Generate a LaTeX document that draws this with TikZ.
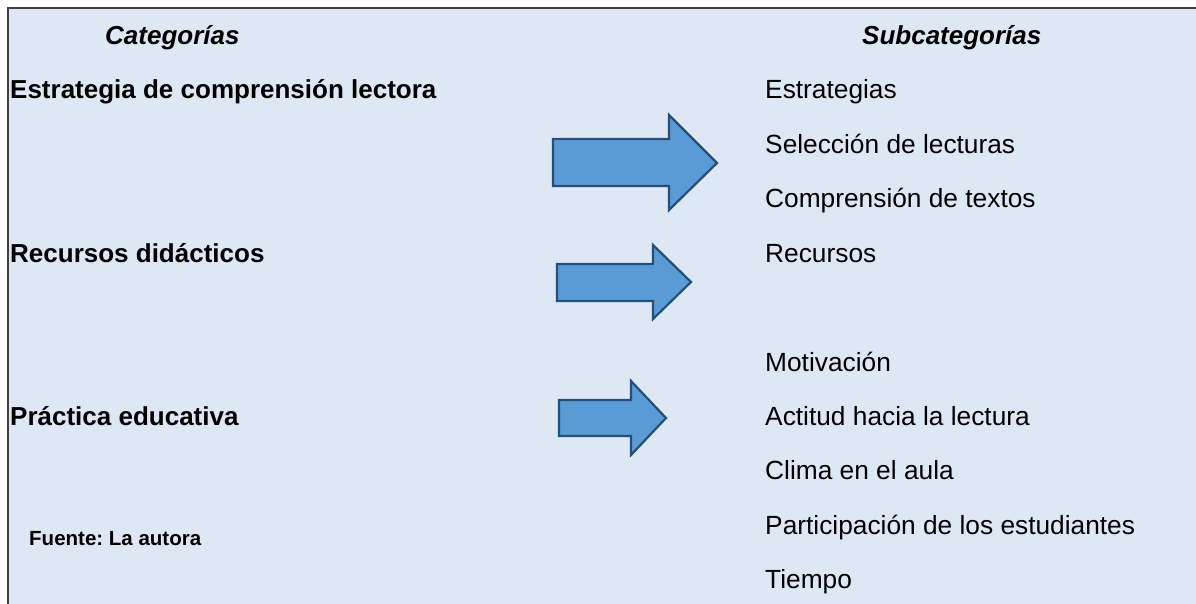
\documentclass[tikz,border=0pt]{standalone}
\usepackage{fontspec}
\setmainfont{Liberation Sans}
\frenchspacing
\definecolor{fondo}{RGB}{221,232,244}
\definecolor{flecha}{RGB}{91,155,213}
\definecolor{bordeflecha}{RGB}{37,78,120}
\definecolor{marco}{RGB}{64,64,64}
\tikzset{
  titulo/.style={anchor=base west,inner sep=0pt,font=\fontsize{26}{30}\selectfont\bfseries\itshape},
  categoria/.style={anchor=base west,inner sep=0pt,font=\fontsize{26}{30}\selectfont\bfseries},
  subcat/.style={anchor=base west,inner sep=0pt,font=\fontsize{26.3}{30}\selectfont},
  fuente/.style={anchor=base west,inner sep=0pt,font=\fontsize{20.5}{24}\selectfont\bfseries},
  bloque/.style={fill=flecha,draw=bordeflecha,line width=2.2pt,line join=miter}
}
\begin{document}
\begin{tikzpicture}[x=1pt,y=-1pt]
            \useasboundingbox (0,0) rectangle (1196,604);
            \fill[fondo] (8,8) rectangle (1196,604);
            \draw[marco,line width=2pt] (8,604) -- (8,8) -- (1196,8);

            \node[titulo] (cat) at (105,45) {Categorías};
            \node[titulo] (subcat) at (862,45) {Subcategorías};

            \node[categoria] (estrategia) at (10,99) {Estrategia de comprensión lectora};
            \node[categoria] (recursos) at (10,262) {Recursos didácticos};
            \node[categoria] (practica) at (10,425) {Práctica educativa};
            \node[fuente] (autora) at (29,545) {Fuente: La autora};

            \node[subcat] (s1) at (765,99) {Estrategias};
            \node[subcat] (s2) at (765,153.4) {Selección de lecturas};
            \node[subcat] (s3) at (765,207.8) {Comprensión de textos};
            \node[subcat] (s4) at (765,262.2) {Recursos};
            \node[subcat] (s5) at (765,371) {Motivación};
            \node[subcat] (s6) at (765,425.4) {Actitud hacia la lectura};
            \node[subcat] (s7) at (765,479.8) {Clima en el aula};
            \node[subcat] (s8) at (765,534.2) {Participación de los estudiantes};
            \node[subcat] (s9) at (765,588.6) {Tiempo};

            % flechas
            \draw[bloque] (553,139) -- (669,139) -- (669,115) -- (717,163)
                -- (669,210) -- (669,186) -- (553,186) -- cycle;
            \draw[bloque] (557,264) -- (653,264) -- (653,245) -- (691,282)
                -- (653,319) -- (653,301) -- (557,301) -- cycle;
            \draw[bloque] (559,400) -- (631,400) -- (631,381) -- (666,418)
                -- (631,455) -- (631,436) -- (559,436) -- cycle;
        \end{tikzpicture}
\end{document}
